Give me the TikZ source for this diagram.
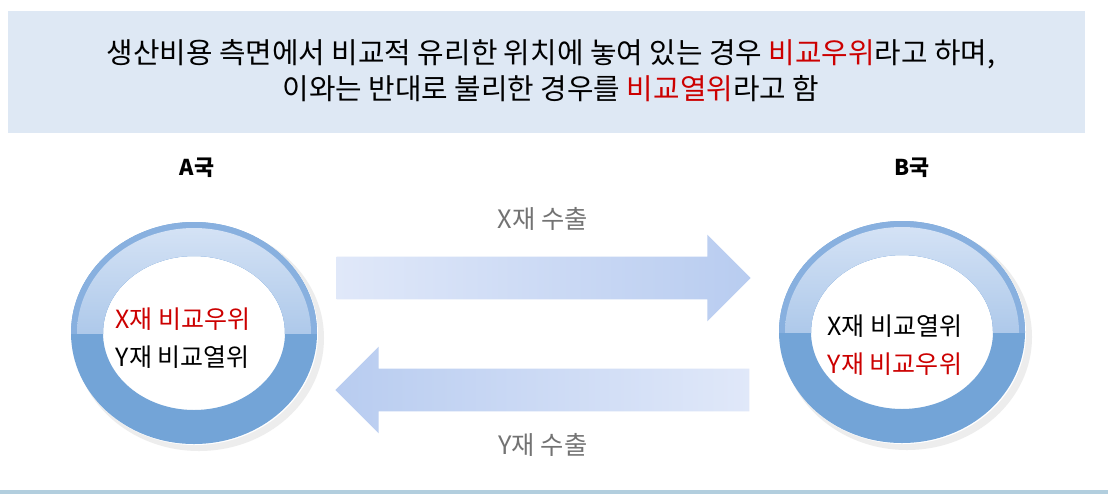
\documentclass[tikz,border=0pt]{standalone}
\usepackage{fontspec}
\setmainfont{Noto Sans CJK KR}
\usetikzlibrary{positioning, shapes.arrows}
\definecolor{headfill}{RGB}{222,232,244}
\definecolor{hired}{RGB}{204,0,0}
\definecolor{ringdark}{RGB}{115,164,215}
\definecolor{ringmid}{RGB}{136,176,223}
\definecolor{ringgloss}{RGB}{212,226,245}
\definecolor{arrowlight}{RGB}{224,232,249}
\definecolor{arrowdark}{RGB}{184,204,240}
\definecolor{bottomline}{RGB}{178,206,222}

\begin{document}
\begin{tikzpicture}[
    x=0.025cm, y=-0.025cm,
    title/.style={font=\fontsize{20.5}{25.5}\selectfont, align=center},
    country/.style={font=\fontsize{15.5}{18}\selectfont\bfseries},
    inside/.style={font=\fontsize{17.8}{27.5}\selectfont, align=center},
    trade/.style={font=\fontsize{18}{20}\selectfont, text=black!55},
    flow/.style={
        single arrow,
        inner sep=0pt,
        inner ysep=0.525cm,
        single arrow head extend=0.55cm,
        minimum height=10.35cm,
        draw=none,
    },
]
\useasboundingbox (0,0) rectangle (1108,494);
\fill[white] (0,0) rectangle (1108,494);

% header
\fill[headfill] (8,11) rectangle (1085,133);
\node[title] (head) at (551,71) {%
  생산비용 측면에서 비교적 유리한 위치에 놓여 있는 경우 \textcolor{hired}{비교우위}라고 하며,\\
  이와는 반대로 불리한 경우를 \textcolor{hired}{비교열위}라고 함};
\fill[bottomline] (0,490) rectangle (1108,494);

% rings
\foreach \cx/\cy in {194/333, 902/332} {
  \fill[black!7] (\cx+5,\cy+5) ellipse (125 and 113);
  \fill[white] (\cx+1,\cy+1) ellipse (123 and 111);
  \fill[ringdark, even odd rule] (\cx,\cy) ellipse (123 and 111) (\cx,\cy) ellipse (91 and 77);
  \begin{scope}
    \clip (\cx-130,\cy-120) rectangle (\cx+130,\cy);
    \fill[ringmid, even odd rule] (\cx,\cy) ellipse (123 and 111) (\cx,\cy) ellipse (91 and 77);
    \shade[top color=ringgloss, bottom color=ringmid, even odd rule]
      (\cx,\cy) ellipse (117 and 105) (\cx,\cy) ellipse (91 and 77);
  \end{scope}
}

\node[inside] (A) at (183,338) {\textcolor{hired}{X재 비교우위}\\Y재 비교열위};
\node[inside] (B) at (895,345) {X재 비교열위\\\textcolor{hired}{Y재 비교우위}};
\node[country] (Alab) at (197,168) {A국};
\node[country] (Blab) at (912,168) {B국};

% trade flows
\node[flow, left color=arrowlight, right color=arrowdark] (Xflow) at (533,278) {};
\node[flow, shape border rotate=180, left color=arrowdark, right color=arrowlight] (Yflow) at (553,390) {};
\node[trade, above=0.52cm of Xflow, xshift=0.25cm] (Xlab) {X재 수출};
\node[trade, below=0.42cm of Yflow, xshift=-0.25cm] (Ylab) {Y재 수출};
\end{tikzpicture}
\end{document}
